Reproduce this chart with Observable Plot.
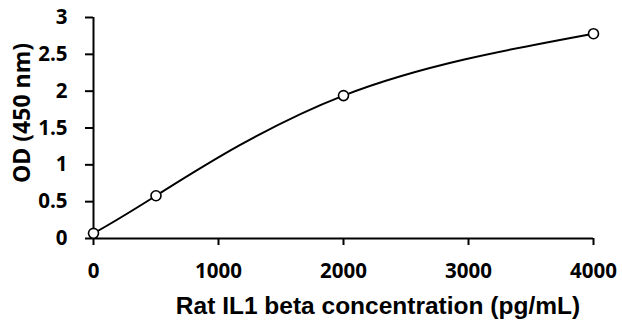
<!DOCTYPE html>
<html>
<head>
<meta charset="utf-8">
<script src="https://cdn.jsdelivr.net/npm/d3@7"></script>
<script src="https://cdn.jsdelivr.net/npm/@observablehq/plot@0.6"></script>
<style>
  html, body { margin: 0; padding: 0; background: #fff; }
  #chart { width: 622px; height: 331px; }
</style>
</head>
<body>
<div id="chart"></div>
<script>
// Standard curve: concentration (pg/mL) vs optical density at 450 nm
const concentration = [0, 500, 2000, 4000];
const od = [0.07, 0.58, 1.94, 2.78];

const xTicks = [0, 1000, 2000, 3000, 4000];
const xTickLabels = ["0", "1000", "2000", "3000", "4000"];
const yTicks = [0, 0.5, 1, 1.5, 2, 2.5, 3];
const yTickLabels = ["0", "0.5", "1", "1.5", "2", "2.5", "3"];

const xTitle = "Rat IL1 beta concentration (pg/mL)";
const yTitle = "OD (450 nm)";

const points = concentration.map((c, i) => ({c, od: od[i]}));

const tickFont = "'Open Sans', sans-serif";

const chart = Plot.plot({
  width: 622,
  height: 331,
  marginLeft: 93,
  marginRight: 29,
  marginTop: 17,
  marginBottom: 93,
  style: {fontFamily: tickFont, fontSize: "20.5px", fontWeight: "bold", color: "#000", background: "#fff"},
  x: {domain: [0, 4000]},
  y: {domain: [0, 3]},
  marks: [
    Plot.axisX({ticks: xTicks, tickFormat: (d, i) => xTickLabels[i], tickSize: 7, tickPadding: 18, strokeWidth: 2, label: null, fontSize: 20.5}),
    Plot.axisY({ticks: yTicks, tickFormat: (d, i) => yTickLabels[i], tickSize: 8, tickPadding: 18, strokeWidth: 2, label: null, fontSize: 20.5}),
    Plot.ruleY([0], {stroke: "#000", strokeWidth: 2}),
    Plot.ruleX([0], {stroke: "#000", strokeWidth: 2}),
    Plot.line(points, {x: "c", y: "od", curve: "natural", stroke: "#000", strokeWidth: 2}),
    Plot.dot(points, {x: "c", y: "od", r: 5, stroke: "#000", strokeWidth: 1.6, fill: "#fff"}),
    Plot.text([xTitle], {frameAnchor: "bottom", textAnchor: "middle", dx: 34.5, dy: 75.5, text: d => d, fontFamily: "'Liberation Sans', Arial, sans-serif", fontSize: 24.5, fontWeight: "bold", fill: "#000"}),
    Plot.text([yTitle], {frameAnchor: "left", textAnchor: "middle", dx: -71, dy: -15, rotate: -90, text: d => d, fontFamily: tickFont, fontSize: 23, fontWeight: "bold", fill: "#000"})
  ]
});
document.getElementById("chart").appendChild(chart);
</script>
</body>
</html>
